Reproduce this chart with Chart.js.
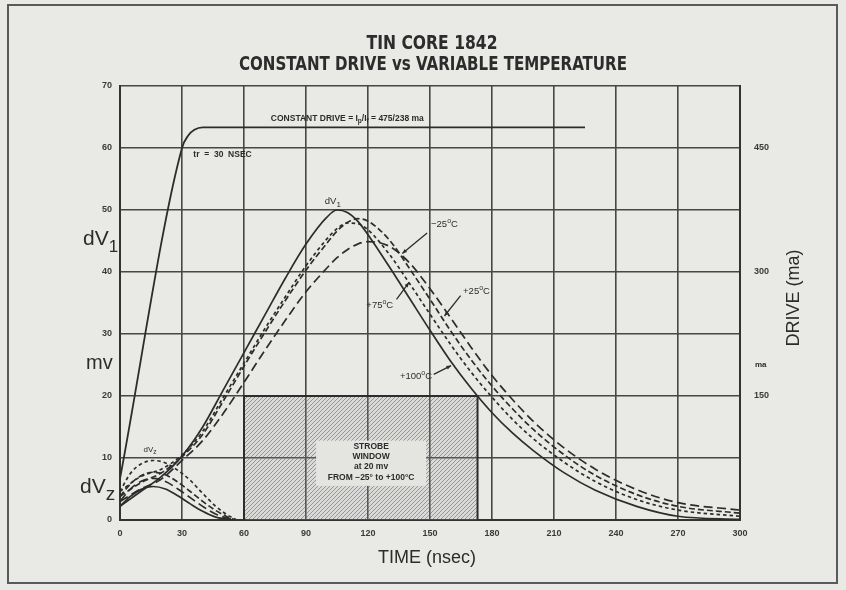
<!DOCTYPE html>
<html>
<head>
<meta charset="utf-8">
<title>Tin Core 1842</title>
<script src="https://cdn.jsdelivr.net/npm/chart.js@4.4.0/dist/chart.umd.min.js"></script>
<style>
  html, body { margin: 0; padding: 0; background: #e9e9e6; }
  #wrap { position: relative; width: 846px; height: 590px; overflow: hidden; }
  #frame { position: absolute; left: 7px; top: 4px; width: 831px; height: 580px;
           border: 2px solid #5a5a5a; box-sizing: border-box; }
  #c { position: absolute; left: 0; top: 0; }
</style>
</head>
<body>
<div id="wrap">
  <div id="frame"></div>
  <canvas id="c" width="846" height="590"></canvas>
</div>
<script>
// ---- axes ----
const timeTicks  = [0, 30, 60, 90, 120, 150, 180, 210, 240, 270, 300];
const mvTicks    = [0, 10, 20, 30, 40, 50, 60, 70];
const driveTicks = [150, 300, 450];

// ---- drive current pulse (ma) ----
const driveTime = [0, 30, 33, 36, 40, 225];
const driveMa   = [50, 450, 465, 472, 475, 475];

// ---- dV1 output for each temperature (mv) ----
const dv1Time   = [0, 10, 20, 30, 40, 50, 60, 70, 80, 90, 100, 105, 110, 115, 120, 130, 140, 150, 160, 170, 180, 190, 200, 215, 230, 250, 270, 300];
const dv1P100   = [2.2, 4.6, 7.0, 10.3, 15.0, 21.0, 27.0, 33.0, 39.0, 44.5, 48.8, 50.0, 49.6, 48.2, 46.0, 41.0, 35.8, 30.6, 25.6, 21.2, 17.3, 14.0, 11.2, 7.6, 4.8, 2.2, 0.6, 0.1];
const dv1P75    = [4.6, 7.0, 8.2, 10.5, 14.3, 19.8, 25.3, 30.8, 36.0, 41.0, 45.3, 47.0, 47.9, 47.8, 46.8, 43.0, 38.2, 33.2, 28.3, 23.8, 19.8, 16.2, 13.1, 9.3, 6.2, 3.3, 1.6, 0.6];
const dv1P25    = [3.8, 6.0, 7.6, 10.2, 13.8, 19.2, 24.8, 30.2, 35.4, 40.3, 44.6, 46.6, 48.0, 48.6, 48.2, 45.3, 40.6, 35.6, 30.5, 25.8, 21.6, 17.9, 14.6, 10.5, 7.2, 4.1, 2.2, 1.1];
const dv1M25    = [3.0, 5.0, 6.6, 9.6, 12.8, 17.2, 22.2, 27.3, 32.2, 36.8, 40.6, 42.3, 43.6, 44.5, 44.9, 44.2, 41.5, 37.3, 32.6, 27.8, 23.3, 19.4, 15.9, 11.6, 8.2, 4.9, 2.8, 1.6];

// ---- dVz (undisturbed zero) output (mv) ----
const dvzTime   = [0, 5, 10, 16, 22, 28, 34, 40, 46, 52, 56];
const dvzP75    = [4.6, 7.5, 9.0, 9.6, 9.2, 8.0, 6.4, 4.3, 2.3, 0.8, 0.1];
const dvzP25    = [3.8, 5.8, 7.1, 7.7, 7.3, 6.1, 4.6, 3.0, 1.6, 0.5, 0.0];
const dvzM25    = [3.0, 5.0, 6.2, 6.7, 6.2, 5.0, 3.6, 2.2, 1.0, 0.3, 0.0];
const dvzP100   = [2.2, 3.8, 4.9, 5.4, 5.0, 3.9, 2.6, 1.4, 0.5, 0.1, 0.0];

// ---- strobe window (ns, mv) ----
const strobeTime = [60, 60, 173, 173];
const strobeMv   = [0, 20, 20, 0];

// ---- text ----
const titleLines  = ['TIN CORE 1842', 'CONSTANT DRIVE vs VARIABLE TEMPERATURE'];
const strobeLines = ['STROBE', 'WINDOW', 'at 20 mv', 'FROM \u221225\u00B0 to +100\u00B0C'];

const FONT = "'Liberation Sans', Arial, Helvetica, sans-serif";
const COND = "'Liberation Sans Narrow', 'DejaVu Sans Condensed', 'Liberation Sans', sans-serif";
const INK  = '#2c2c2c';
const GRID = '#474747';

const pts = (xs, ys) => xs.map((v, i) => ({ x: v, y: ys[i] }));

function hatch() {
  const c = document.createElement('canvas');
  c.width = 4; c.height = 4;
  const g = c.getContext('2d');
  g.fillStyle = 'rgba(160,160,160,0.2)';
  g.fillRect(0, 0, 4, 4);
  g.strokeStyle = 'rgba(80,80,80,0.5)';
  g.lineWidth = 1;
  g.beginPath();
  g.moveTo(-1, 5); g.lineTo(5, -1);
  g.moveTo(-1, 1); g.lineTo(1, -1);
  g.moveTo(3, 5); g.lineTo(5, 3);
  g.stroke();
  return g.createPattern(c, 'repeat');
}

function curve(xs, ys, dash, axis) {
  return {
    data: pts(xs, ys),
    yAxisID: axis || 'y',
    borderColor: INK,
    borderWidth: 1.7,
    borderDash: dash,
    fill: false,
    pointRadius: 0,
    cubicInterpolationMode: 'monotone'
  };
}

// text made of runs of different size / vertical offset (sub-, superscripts)
function rich(ctx, x, y, runs, align) {
  let w = 0;
  runs.forEach(r => { ctx.font = (r.w || 'normal') + ' ' + r.s + 'px ' + (r.f || FONT); w += ctx.measureText(r.t).width; });
  let cx = align === 'center' ? x - w / 2 : align === 'right' ? x - w : x;
  ctx.textAlign = 'left';
  ctx.textBaseline = 'alphabetic';
  runs.forEach(r => {
    ctx.font = (r.w || 'normal') + ' ' + r.s + 'px ' + (r.f || FONT);
    ctx.fillText(r.t, cx, y + (r.dy || 0));
    cx += ctx.measureText(r.t).width;
  });
}

// heading line squeezed horizontally to a given width
function squeezed(ctx, text, cx, y, width) {
  ctx.font = 'bold 19px ' + COND;
  const w = ctx.measureText(text).width;
  ctx.save();
  ctx.translate(cx, y);
  ctx.scale(Math.min(1, width / w), 1);
  ctx.textAlign = 'center'; ctx.textBaseline = 'alphabetic';
  ctx.fillText(text, 0, 0);
  ctx.restore();
}

function arrow(ctx, x0, y0, x1, y1) {
  ctx.beginPath();
  ctx.moveTo(x0, y0); ctx.lineTo(x1, y1);
  ctx.stroke();
  const a = Math.atan2(y1 - y0, x1 - x0), L = 5;
  ctx.beginPath();
  ctx.moveTo(x1, y1);
  ctx.lineTo(x1 - L * Math.cos(a - 0.4), y1 - L * Math.sin(a - 0.4));
  ctx.lineTo(x1 - L * Math.cos(a + 0.4), y1 - L * Math.sin(a + 0.4));
  ctx.closePath();
  ctx.fill();
}

const labels = {
  id: 'labels',
  afterDatasetsDraw(chart) {
    const { ctx, chartArea: a, scales: { x, y } } = chart;
    const px = v => x.getPixelForValue(v), py = v => y.getPixelForValue(v);
    ctx.save();
    ctx.fillStyle = INK; ctx.strokeStyle = INK;

    // heading
    squeezed(ctx, titleLines[0], 432, 49, 131);
    squeezed(ctx, titleLines[1], 433, 70, 388);

    // left axis words
    rich(ctx, a.left - 37, 245, [{ t: 'dV', s: 21 }, { t: '1', s: 17, dy: 7 }]);
    rich(ctx, a.left - 34, 369, [{ t: 'mv', s: 20 }]);
    rich(ctx, a.left - 40, 493, [{ t: 'dV', s: 21 }, { t: 'z', s: 19, dy: 7 }]);

    // bottom axis title
    ctx.font = '18px ' + FONT; ctx.textAlign = 'center';
    ctx.fillText('TIME (nsec)', (a.left + a.right) / 2 - 3, 563);

    // right axis title and unit
    ctx.save();
    ctx.translate(a.right + 54, 298);
    ctx.rotate(-Math.PI / 2);
    ctx.font = '18px ' + FONT; ctx.textAlign = 'center'; ctx.textBaseline = 'middle';
    ctx.fillText('DRIVE (ma)', 0, 0);
    ctx.restore();
    ctx.font = 'bold 8px ' + FONT; ctx.textAlign = 'left'; ctx.textBaseline = 'middle';
    ctx.fillText('ma', a.right + 15, 365);

    // drive pulse notes
    rich(ctx, px(73), py(64.4), [
      { t: 'CONSTANT DRIVE = I', s: 8.5, w: 'bold' }, { t: 'p', s: 6.5, dy: 2, w: 'bold' },
      { t: '/I', s: 8.5, w: 'bold' }, { t: 'f', s: 6.5, dy: 2, w: 'bold' },
      { t: ' = 475/238 ma', s: 8.5, w: 'bold' }]);
    rich(ctx, px(35.5), py(58.6), [{ t: 'tr  =  30  NSEC', s: 8.5, w: 'bold' }]);

    // curve notes
    rich(ctx, px(103), py(50.9), [{ t: 'dV', s: 9.5 }, { t: '1', s: 8, dy: 3 }], 'center');
    rich(ctx, px(14.5), py(11.0), [{ t: 'dV', s: 8 }, { t: 'z', s: 6.5, dy: 2 }], 'center');

    const deg = (txt, x0, y0, align) => rich(ctx, x0, y0, [
      { t: txt, s: 9.5 }, { t: 'o', s: 7, dy: -4 }, { t: 'C', s: 9.5 }], align);
    deg('\u221225', px(150.5), py(47.2), 'left');
    deg('+25', px(166), py(36.4), 'left');
    deg('+75', px(132.2), py(34.2), 'right');
    deg('+100', px(151), py(22.7), 'right');

    ctx.lineWidth = 1.3;
    arrow(ctx, px(148.6), py(46.3), px(136.6), py(43.0));
    arrow(ctx, px(164.8), py(36.2), px(157.0), py(32.9));
    arrow(ctx, px(133.8), py(35.6), px(139.8), py(38.3));
    arrow(ctx, px(151.8), py(23.5), px(160.2), py(24.9));

    // strobe window caption
    const cx = px(121.5);
    ctx.fillStyle = '#e4e4e1';
    ctx.fillRect(cx - 55, py(12.8), 110, py(5.5) - py(12.8));
    ctx.fillStyle = INK;
    ctx.font = 'bold 8.5px ' + FONT; ctx.textAlign = 'center'; ctx.textBaseline = 'middle';
    const rows = [11.8, 10.2, 8.6, 6.8];
    strobeLines.forEach((s, i) => ctx.fillText(s, cx, py(rows[i])));
    ctx.restore();
  }
};

const tickFont = { family: FONT, size: 9, weight: 'bold' };

new Chart(document.getElementById('c'), {
  type: 'line',
  data: {
    datasets: [
      // strobe window (hatched)
      Object.assign(curve(strobeTime, strobeMv, []), {
        fill: 'origin', backgroundColor: hatch(), borderWidth: 2, cubicInterpolationMode: 'default', tension: 0
      }),
      // drive pulse
      Object.assign(curve(driveTime, driveMa, [], 'y2'), { borderWidth: 1.8 }),
      // dV1 curves
      curve(dv1Time, dv1P100, []),
      curve(dv1Time, dv1P75, [3.5, 3]),
      curve(dv1Time, dv1P25, [6, 3]),
      curve(dv1Time, dv1M25, [9, 4.5]),
      // dVz curves
      curve(dvzTime, dvzP75, [3.5, 3]),
      curve(dvzTime, dvzP25, [6, 3]),
      curve(dvzTime, dvzM25, [9, 4.5]),
      curve(dvzTime, dvzP100, [])
    ]
  },
  options: {
    responsive: false,
    animation: false,
    events: [],
    layout: { padding: { top: 86, left: 0, right: 0, bottom: 0 } },
    plugins: { legend: { display: false }, tooltip: { enabled: false }, title: { display: false } },
    scales: {
      x: {
        type: 'linear', min: 0, max: 300,
        afterBuildTicks: s => { s.ticks = timeTicks.map(v => ({ value: v })); },
        afterFit: s => { s.height = 70; },
        grid: { color: GRID, lineWidth: 1.6, drawTicks: false },
        border: { color: '#333', width: 2 },
        ticks: { padding: 8, font: tickFont, color: '#3a3a3a', maxRotation: 0, autoSkip: false }
      },
      y: {
        type: 'linear', min: 0, max: 70, position: 'left',
        afterBuildTicks: s => { s.ticks = mvTicks.map(v => ({ value: v })); },
        afterFit: s => { s.width = 120; },
        grid: { color: GRID, lineWidth: 1.6, drawTicks: false },
        border: { color: '#333', width: 2 },
        ticks: { padding: 8, font: tickFont, color: '#3a3a3a' }
      },
      y2: {
        type: 'linear', min: 0, max: 525, position: 'right',
        afterBuildTicks: s => { s.ticks = driveTicks.map(v => ({ value: v })); },
        afterFit: s => { s.width = 106; },
        grid: { display: false, drawTicks: false },
        border: { color: '#333', width: 2 },
        ticks: { padding: 14, font: tickFont, color: '#3a3a3a' }
      }
    }
  },
  plugins: [labels]
});
</script>
</body>
</html>
